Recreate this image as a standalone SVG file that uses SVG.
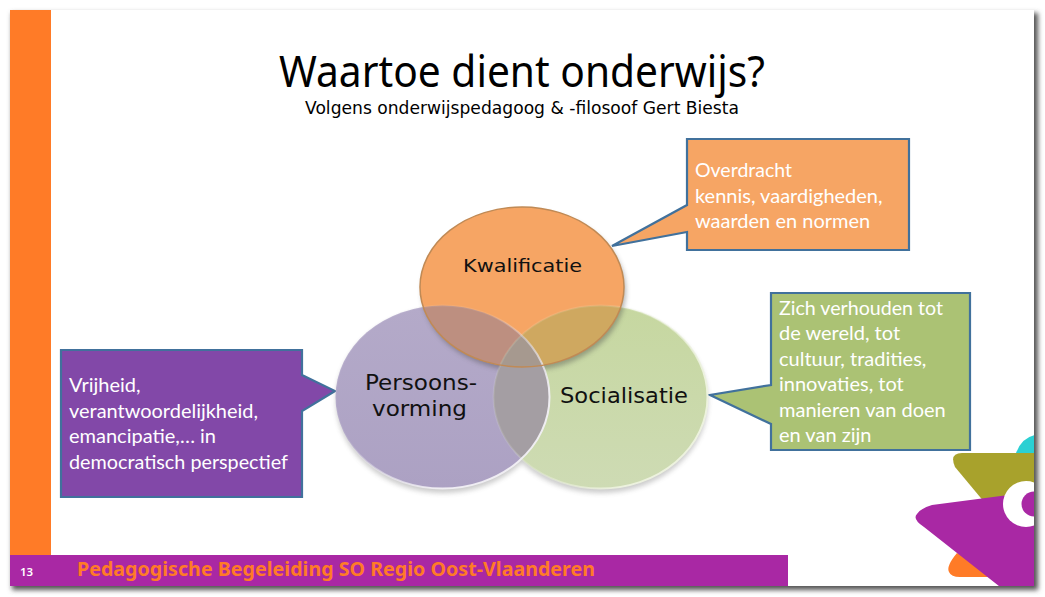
<svg xmlns="http://www.w3.org/2000/svg" width="1045" height="597" viewBox="0 0 1045 597">
<style>
.cw{font-family:"Lato","Liberation Sans",sans-serif;font-size:20px;fill:#fff}
.cl{font-family:"DejaVu Sans",sans-serif;fill:#111}
.co{stroke:#41719c;stroke-width:2.2;stroke-linejoin:miter}
</style>
<defs>
<filter id="sl" x="-3%" y="-3%" width="106%" height="108%"><feGaussianBlur stdDeviation="2.5"/></filter>
<filter id="sh" x="-10%" y="-10%" width="120%" height="125%"><feGaussianBlur stdDeviation="2.5"/></filter>
<linearGradient id="gp" x1="0" y1="0" x2="0" y2="1"><stop offset="0" stop-color="#b4aac9"/><stop offset="1" stop-color="#aca1c3"/></linearGradient>
<linearGradient id="gg" x1="0" y1="0" x2="0" y2="1"><stop offset="0" stop-color="#c6d7a0"/><stop offset="1" stop-color="#cedbb4"/></linearGradient>
<linearGradient id="rp" x1="0.1" y1="0.1" x2="0.9" y2="0.9"><stop offset="0.35" stop-color="#e8e4f0" stop-opacity="0.1"/><stop offset="0.8" stop-color="#f2f0f5" stop-opacity="0.95"/></linearGradient>
<linearGradient id="rs" x1="0" y1="0.2" x2="1" y2="0.8"><stop offset="0.3" stop-color="#e6eed4" stop-opacity="0.15"/><stop offset="0.8" stop-color="#eef3e0" stop-opacity="0.95"/></linearGradient>
<clipPath id="slide"><rect x="10" y="10" width="1024" height="576"/></clipPath>
<clipPath id="ck"><ellipse cx="522" cy="287" rx="102" ry="80"/></clipPath>
<clipPath id="cp"><ellipse cx="442.5" cy="397" rx="107" ry="91.5"/></clipPath>
<clipPath id="cs"><ellipse cx="600.5" cy="397" rx="107" ry="91.5"/></clipPath>
</defs>
<rect width="1045" height="597" fill="#fff"/>
<rect x="12" y="13" width="1026" height="577" fill="#555" filter="url(#sl)"/>
<rect x="10" y="10" width="1024" height="576" fill="#fff"/>
<rect x="10" y="10" width="41" height="545" fill="#ff7b27"/>
<g id="mascot" clip-path="url(#slide)">
<path d="M1016 453Q1022 437 1036 435V460Z" fill="#2bd0d3"/>
<path d="M962 453H1036V520L985 503L955 467Q949 453 962 453Z" fill="#a8a22c"/>
<path d="M957 553Q946 566 949 572Q951 577 960 577H995V570Z" fill="#ff7b27"/>
<path d="M932 505L1040 491V590H1004L924 527Q912 519 917 514Q921 508 932 505Z" fill="#a928a4"/>
<circle cx="1026" cy="504" r="23" fill="#fff"/>
<circle cx="1034" cy="504" r="12.5" fill="#a928a4"/>
</g>
<rect x="10" y="555" width="778" height="31" fill="#a928a4"/>
<g id="title">
<text x="279" y="87" font-family="'Noto Sans',sans-serif" font-size="44" fill="#000" textLength="486" lengthAdjust="spacingAndGlyphs">Waartoe dient onderwijs?</text>
<text x="305" y="114" font-family="'DejaVu Sans',sans-serif" font-size="17.5" fill="#000" textLength="434" lengthAdjust="spacingAndGlyphs">Volgens onderwijspedagoog &amp; -filosoof Gert Biesta</text>
</g>
<g id="footer">
<text x="20" y="576" font-family="'Noto Sans',sans-serif" font-weight="600" font-size="11.5" fill="#fff">13</text>
<text x="77" y="576" font-family="'Noto Sans',sans-serif" font-weight="bold" font-size="20" fill="#ff7b27" textLength="518" lengthAdjust="spacingAndGlyphs">Pedagogische Begeleiding SO Regio Oost-Vlaanderen</text>
</g>
<g id="connectors">
<path d="M687 139H909V250H687V232L612 246L687 205Z" fill="#f6a564" class="co"/>
<path d="M771 293H970V450H771V424L710 395L771 385Z" fill="#abc274" class="co"/>
<path d="M61 350H302V375L335 391L302 411V497H61Z" fill="#8248a8" class="co"/>
</g>
<g id="venn">
<g fill="#555" opacity=".3" filter="url(#sh)">
<ellipse cx="443" cy="401" rx="107" ry="92"/>
<ellipse cx="601" cy="401" rx="107" ry="92"/>
</g>
<g id="node-socialisatie"><ellipse cx="600.5" cy="397" rx="107" ry="91.5" fill="url(#gg)"/></g>
<g id="node-persoonsvorming"><ellipse cx="442.5" cy="397" rx="107" ry="91.5" fill="url(#gp)"/></g>
<ellipse cx="524" cy="291" rx="102" ry="80" fill="#444" opacity=".4" filter="url(#sh)"/>
<g id="node-kwalificatie"><ellipse cx="522" cy="287" rx="102" ry="80" fill="#f6a564"/></g>
<g clip-path="url(#ck)"><ellipse cx="442.5" cy="397" rx="107" ry="91.5" fill="#bd8f80"/><ellipse cx="600.5" cy="397" rx="107" ry="91.5" fill="#cfa860"/></g>
<g clip-path="url(#cp)"><ellipse cx="600.5" cy="397" rx="107" ry="91.5" fill="#a49ea3"/><g clip-path="url(#ck)"><ellipse cx="600.5" cy="397" rx="107" ry="91.5" fill="#a6998f"/></g></g>
<ellipse cx="600.5" cy="397" rx="107" ry="91.5" fill="none" stroke="url(#rs)" stroke-width="2"/>
<ellipse cx="442.5" cy="397" rx="107" ry="91.5" fill="none" stroke="url(#rp)" stroke-width="2"/>
<ellipse cx="522" cy="287" rx="102" ry="80" fill="none" stroke="#c08a55" stroke-width="1.5"/>
<text class="cl" x="463" y="272" font-size="18" textLength="119" lengthAdjust="spacingAndGlyphs">Kwalificatie</text>
<text class="cl" x="365" y="390" font-size="21" textLength="112" lengthAdjust="spacingAndGlyphs">Persoons-</text>
<text class="cl" x="372" y="416" font-size="21" textLength="95" lengthAdjust="spacingAndGlyphs">vorming</text>
<text class="cl" x="560" y="403" font-size="21" textLength="128" lengthAdjust="spacingAndGlyphs">Socialisatie</text>
</g>
<g id="callout-orange">
<text class="cw" x="695" y="177" textLength="97" lengthAdjust="spacingAndGlyphs">Overdracht</text>
<text class="cw" x="695" y="203">kennis, vaardigheden,</text>
<text class="cw" x="695" y="228">waarden en normen</text>
</g>
<g id="callout-green">
<text class="cw" x="779" y="315" textLength="164" lengthAdjust="spacingAndGlyphs">Zich verhouden tot</text>
<text class="cw" x="779" y="340">de wereld, tot</text>
<text class="cw" x="779" y="366">cultuur, tradities,</text>
<text class="cw" x="779" y="391">innovaties, tot</text>
<text class="cw" x="779" y="417">manieren van doen</text>
<text class="cw" x="779" y="442">en van zijn</text>
</g>
<g id="callout-purple">
<text class="cw" x="69" y="392">Vrijheid,</text>
<text class="cw" x="69" y="418" textLength="189" lengthAdjust="spacingAndGlyphs">verantwoordelijkheid,</text>
<text class="cw" x="69" y="443">emancipatie,… in</text>
<text class="cw" x="69" y="469" textLength="219" lengthAdjust="spacingAndGlyphs">democratisch perspectief</text>
</g>
</svg>
